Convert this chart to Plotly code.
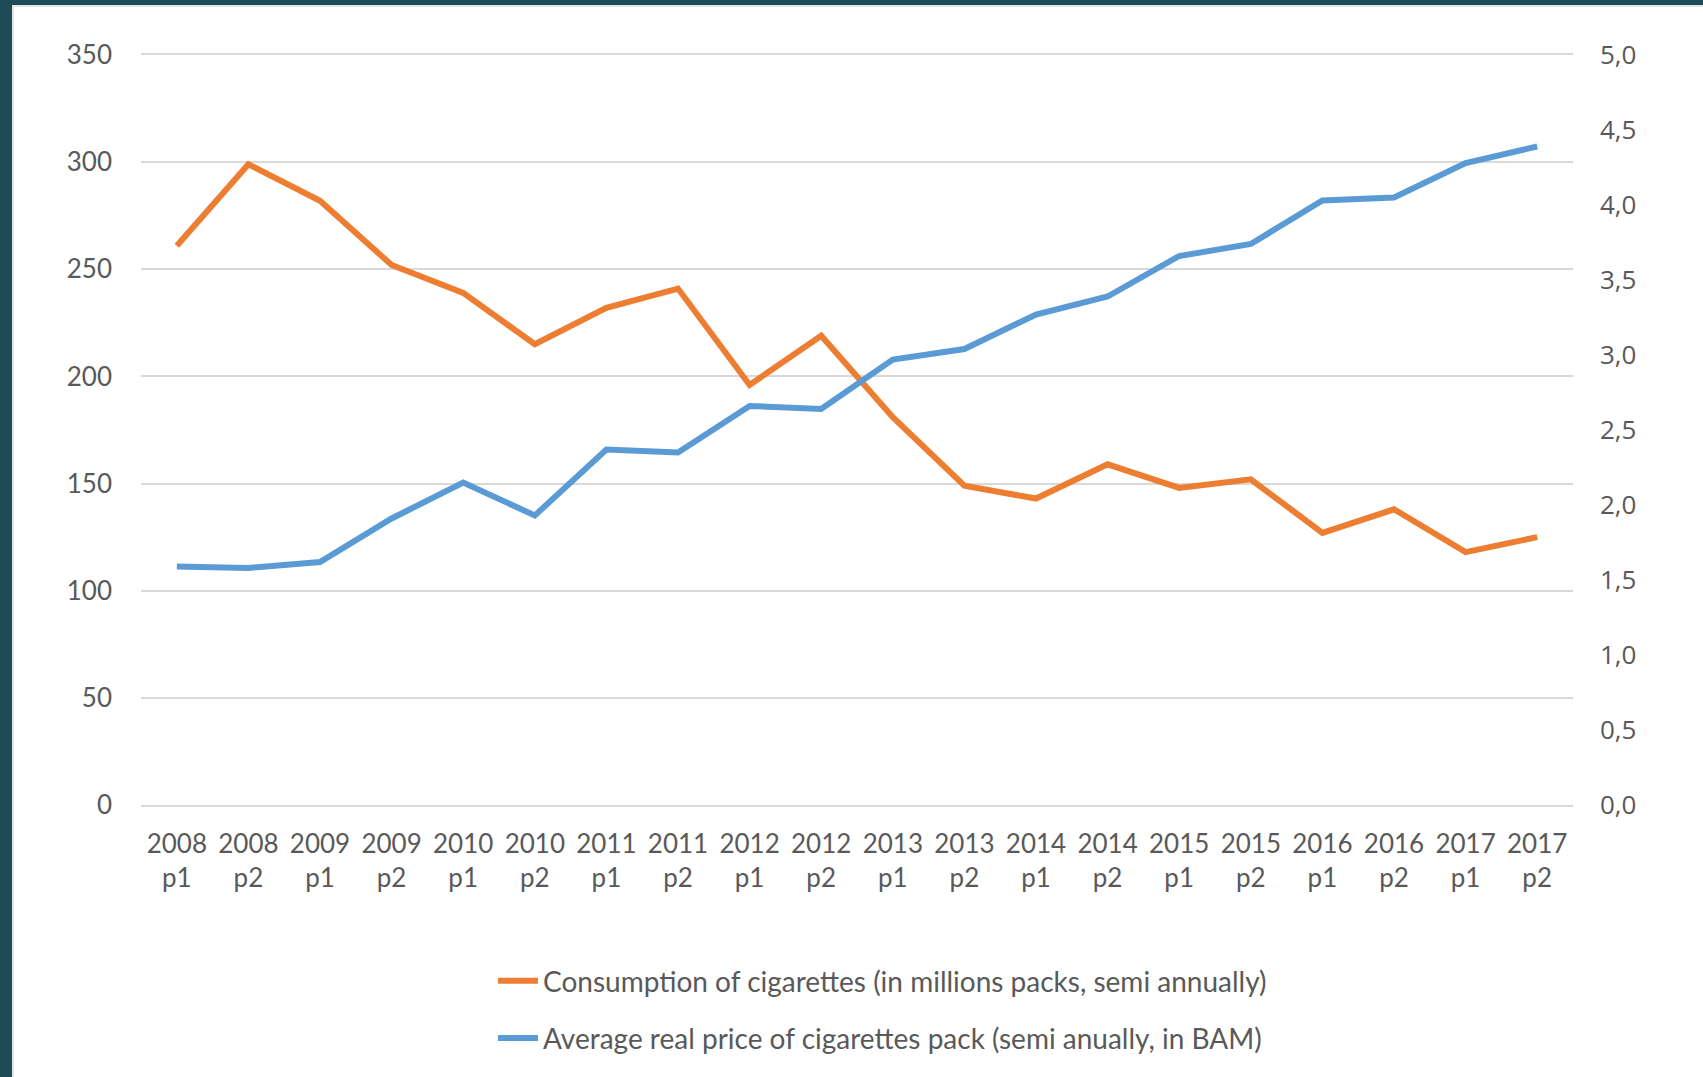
import plotly.graph_objects as go

periods = ["2008<br>p1", "2008<br>p2", "2009<br>p1", "2009<br>p2", "2010<br>p1", "2010<br>p2",
           "2011<br>p1", "2011<br>p2", "2012<br>p1", "2012<br>p2", "2013<br>p1", "2013<br>p2",
           "2014<br>p1", "2014<br>p2", "2015<br>p1", "2015<br>p2", "2016<br>p1", "2016<br>p2",
           "2017<br>p1", "2017<br>p2"]
consumption = [261, 299, 282, 252, 239, 215, 232, 241, 196, 219,
               181, 149, 143, 159, 148, 152, 127, 138, 118, 125]
price = [1.59, 1.58, 1.62, 1.91, 2.15, 1.93, 2.37, 2.35, 2.66, 2.64,
         2.97, 3.04, 3.27, 3.39, 3.66, 3.74, 4.03, 4.05, 4.28, 4.39]
left_ticks = [0, 50, 100, 150, 200, 250, 300, 350]
right_ticks = [0, 0.5, 1.0, 1.5, 2.0, 2.5, 3.0, 3.5, 4.0, 4.5, 5.0]
right_labels = ["0,0", "0,5", "1,0", "1,5", "2,0", "2,5", "3,0", "3,5", "4,0", "4,5", "5,0"]
name_cons = "Consumption of cigarettes (in millions packs, semi annually)"
name_price = "Average real price of cigarettes pack (semi anually, in BAM)"

W, H = 1703, 1077
L, R, T, B = 141, 130, 55, 272
pw, ph = W - L - R, H - T - B

FONT = "Lato"
GREY = "#595959"

fig = go.Figure()
fig.add_trace(go.Scatter(x=list(range(len(periods))), y=consumption, name=name_cons, mode="lines",
                         line=dict(color="#ED7D31", width=6), legendgroup="a"))
fig.add_trace(go.Scatter(x=list(range(len(periods))), y=price, name=name_price, mode="lines",
                         line=dict(color="#5B9BD5", width=6), yaxis="y2", legendgroup="b"))

# frame decoration (dark teal border on left and top)
teal = "#1D4C57"
fig.add_shape(type="rect", xref="paper", yref="paper",
              x0=(0 - L) / pw, x1=(12 - L) / pw, y0=-(B + 5) / ph, y1=1 + (T + 5) / ph,
              fillcolor=teal, line_width=0, layer="below")
fig.add_shape(type="rect", xref="paper", yref="paper",
              x0=(12 - L) / pw, x1=(14 - L) / pw, y0=-(B + 5) / ph, y1=1 + (T - 5) / ph,
              fillcolor="#E3E3E3", line_width=0, layer="below")
fig.add_shape(type="rect", xref="paper", yref="paper",
              x0=(0 - L) / pw, x1=(W + 5 - L) / pw, y0=1 + (T - 5) / ph, y1=1 + (T + 5) / ph,
              fillcolor=teal, line_width=0, layer="below")
fig.add_shape(type="rect", xref="paper", yref="paper",
              x0=(12 - L) / pw, x1=(W + 5 - L) / pw, y0=1 + (T - 7) / ph, y1=1 + (T - 5) / ph,
              fillcolor="#E3E3E3", line_width=0, layer="below")

fig.update_layout(
    width=W, height=H,
    margin=dict(l=L, r=R, t=T, b=B, autoexpand=False),
    paper_bgcolor="white", plot_bgcolor="white",
    font=dict(family=FONT, color=GREY, size=26),
    showlegend=True,
    legend=dict(orientation="v", x=(493 - L) / pw, xanchor="left", y=-(B - 121) / ph, yanchor="top",
                font=dict(size=28, color=GREY, family=FONT), tracegroupgap=18,
                traceorder="grouped", itemwidth=40, bgcolor="rgba(0,0,0,0)"),
    xaxis=dict(tickmode="array", tickvals=list(range(len(periods))), ticktext=periods,
               range=[-0.5, len(periods) - 0.5], showgrid=False, zeroline=False,
               showline=True, mirror=True, linecolor="#D9D9D9", linewidth=2,
               ticks="", tickfont=dict(size=26, color=GREY),
               ticklabelstandoff=15, fixedrange=True),
    yaxis=dict(range=[0, 350], tickvals=left_ticks, showgrid=True, gridcolor="#D9D9D9",
               gridwidth=2, zeroline=False, showline=False, ticks="",
               tickfont=dict(size=26, color=GREY), ticklabelstandoff=28),
    yaxis2=dict(range=[0, 5], overlaying="y", side="right", tickvals=right_ticks,
                ticktext=right_labels, showgrid=False, zeroline=False, showline=False,
                ticks="", tickfont=dict(size=26, color=GREY, family="Open Sans"),
                ticklabelstandoff=26),
)

fig.write_html("out.html", config={"displayModeBar": False},
               post_script="document.body.style.margin='0';")
